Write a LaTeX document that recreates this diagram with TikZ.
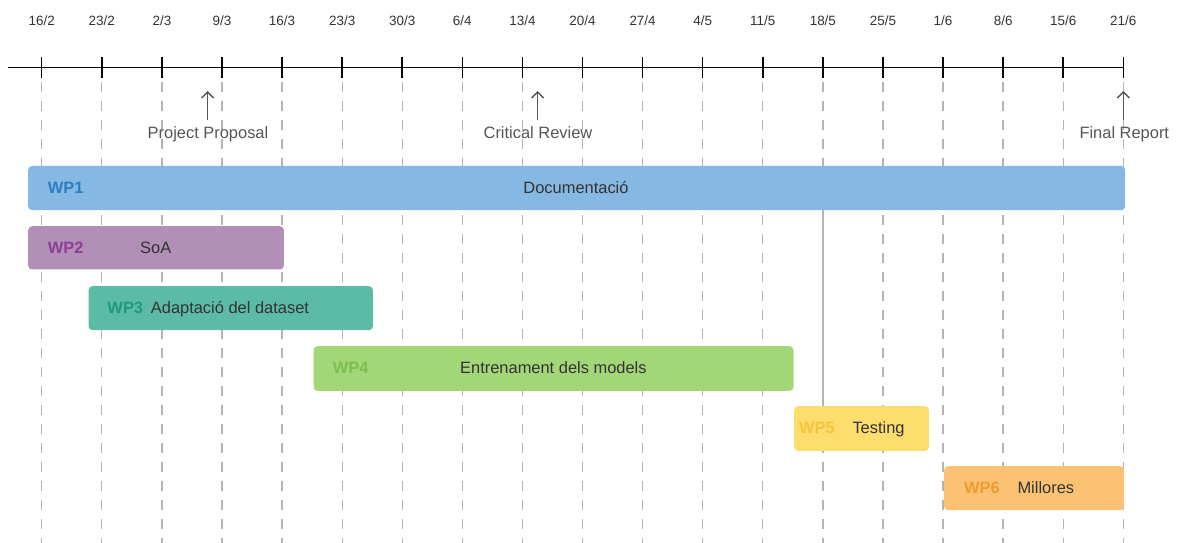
\documentclass[tikz,border=0pt]{standalone}
\usepackage{fontspec}
\setmainfont{Liberation Sans}
\usetikzlibrary{arrows.meta}
\definecolor{wpAfill}{HTML}{85B9E3}\definecolor{wpAtxt}{HTML}{2B7EC1}
\definecolor{wpBfill}{HTML}{B18FB6}\definecolor{wpBtxt}{HTML}{8E3F94}
\definecolor{wpCfill}{HTML}{5CBBA6}\definecolor{wpCtxt}{HTML}{1E9B79}
\definecolor{wpDfill}{HTML}{A3D677}\definecolor{wpDtxt}{HTML}{7CC04F}
\definecolor{wpEfill}{HTML}{FDDD6E}\definecolor{wpEtxt}{HTML}{F2C53A}
\definecolor{wpFfill}{HTML}{FCC273}\definecolor{wpFtxt}{HTML}{EF9B2D}
\definecolor{gridgray}{HTML}{B4B4B4}
\definecolor{darktxt}{HTML}{333333}
\definecolor{msgray}{HTML}{555555}
\tikzset{
  datelbl/.style={anchor=base, inner sep=0pt, text=darktxt, font=\fontsize{13.5}{16}\selectfont},
  tickline/.style={line width=1.5bp, black},
  gridline/.style={line width=1.3bp, gridgray, dash pattern=on 10bp off 9bp},
  bar/.style={rectangle, rounded corners=4bp, draw=none, anchor=north west, inner sep=0pt},
  wplbl/.style={anchor=base west, inner sep=0pt, font=\fontsize{16.5}{19}\selectfont\bfseries},
  bartxt/.style={anchor=base west, inner sep=0pt, text=darktxt, font=\fontsize{16.5}{19}\selectfont},
  mstxt/.style={anchor=base, inner sep=0pt, text=msgray, font=\fontsize{16.5}{19}\selectfont},
  msarrow/.style={line width=1.4bp, msgray, -{Straight Barb[length=6bp,width=12bp]}}
}
\begin{document}
\begin{tikzpicture}[x=1bp,y=-1bp]
\useasboundingbox (0,0) rectangle (1177,543);
% grid lines
\foreach \i in {0,...,18} {
  \pgfmathsetmacro{\xx}{41.7+60.09*\i}
  \draw[gridline] (\xx,82) -- (\xx,543);
}
\draw[line width=1.3bp, gridgray] (41.7+60.09*13,210) -- (41.7+60.09*13,406);
% axis
\coordinate (axL) at (8,67.3);
\coordinate (axR) at (1123.3,67.3);
\draw[tickline] (axL) -- (axR);
\foreach \lbl [count=\c from 0] in {16/2,23/2,2/3,9/3,16/3,23/3,30/3,6/4,13/4,20/4,27/4,4/5,11/5,18/5,25/5,1/6,8/6,15/6,21/6} {
  \pgfmathsetmacro{\xx}{41.7+60.09*\c}
  \coordinate (t\c a) at (\xx,57);
  \coordinate (t\c b) at (\xx,78);
  \draw[tickline] (t\c a) -- (t\c b);
  \node[datelbl] (d\c) at (\xx,26) {\lbl};
}
% milestones
\node[mstxt] (pp) at (208,139) {Project Proposal};
\node[mstxt] (cr) at (538,139) {Critical Review};
\node[mstxt] (fr) at (1124.3,139) {Final Report};
\coordinate (ppA) at (207.7,91);
\coordinate (crA) at (537.7,91);
\coordinate (frA) at (1123.3,91);
\draw[msarrow] (207.7,120) -- (ppA);
\draw[msarrow] (537.7,120) -- (crA);
\draw[msarrow] (1123.3,120) -- (frA);
% bars
\node[bar, fill=wpAfill, minimum width=1097bp, minimum height=44.3bp] (wp1) at (28,165.7) {};
\node[bar, fill=wpBfill, minimum width=255.7bp, minimum height=43.3bp] (wp2) at (28,226) {};
\node[bar, fill=wpCfill, minimum width=284.4bp, minimum height=44bp] (wp3) at (88.3,286) {};
\node[bar, fill=wpDfill, minimum width=480bp, minimum height=44.7bp] (wp4) at (313.3,346) {};
\node[bar, fill=wpEfill, minimum width=134.7bp, minimum height=44.7bp] (wp5) at (794,406) {};
\node[bar, fill=wpFfill, minimum width=180bp, minimum height=44bp] (wp6) at (944,466) {};
% labels
\node[wplbl, text=wpAtxt] (l1) at (47.7,193.4) {WP1};
\node[anchor=base, inner sep=0pt, text=darktxt, font=\fontsize{16.5}{19}\selectfont] (x1) at (576,193.4) {Documentació};
\node[wplbl, text=wpBtxt] (l2) at (47.7,253.2) {WP2};
\node[bartxt] (x2) at (140,253.2) {SoA};
\node[wplbl, text=wpCtxt] (l3) at (107.3,313.2) {WP3};
\node[bartxt] (x3) at (150.7,313.2) {Adaptació del dataset};
\node[wplbl, text=wpDtxt] (l4) at (332.7,373.6) {WP4};
\node[bartxt] (x4) at (460,373.6) {Entrenament dels models};
\node[wplbl, text=wpEtxt] (l5) at (799,433.6) {WP5};
\node[bartxt] (x5) at (852.3,433.6) {Testing};
\node[wplbl, text=wpFtxt] (l6) at (964,493.2) {WP6};
\node[bartxt] (x6) at (1017.3,493.2) {Millores};
\end{tikzpicture}
\end{document}
